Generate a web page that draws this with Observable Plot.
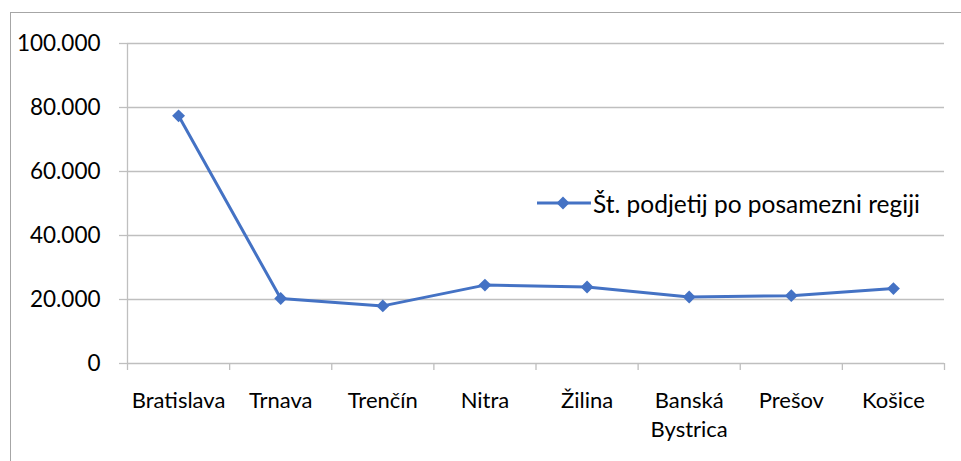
<!DOCTYPE html>
<html><head><meta charset="utf-8">
<script src="https://cdn.jsdelivr.net/npm/d3@7"></script>
<script src="https://cdn.jsdelivr.net/npm/@observablehq/plot@0.6"></script>
<style>
body{margin:0;background:#fff;}
#wrap{position:relative;width:961px;height:461px;overflow:hidden;}
#border{position:absolute;left:10px;top:12px;width:1000px;height:1000px;border-left:1.5px solid #a6a6a6;border-top:1.5px solid #a6a6a6;pointer-events:none;}
#chart{position:absolute;left:0;top:0;}
#legend{position:absolute;left:537px;top:188px;height:30px;font-family:Lato,sans-serif;font-size:24.5px;display:flex;align-items:center;white-space:nowrap;color:#000;}
#legend svg{margin-right:2px;}
</style>
</head><body><div id="wrap"><div id="chart"></div><div id="border"></div><div id="legend"></div></div>
<script>
const regions = ["Bratislava","Trnava","Trenčín","Nitra","Žilina","Banská Bystrica","Prešov","Košice"];
const regionLabels = ["Bratislava","Trnava","Trenčín","Nitra","Žilina","Banská\nBystrica","Prešov","Košice"];
const companies = [77400,20300,18000,24500,23900,20800,21200,23400];
const yTicks = [0,20000,40000,60000,80000,100000];
const yTickLabels = ["0","20.000","40.000","60.000","80.000","100.000"];
const seriesName = "Št. podjetij po posamezni regiji";

const blue = "#4472c4";
const gray = "#bfbfbf";
const font = "Lato, sans-serif";
const data = regions.map((r, i) => ({region: r, pos: i + 0.5, value: companies[i]}));

const plot = Plot.plot({
  width: 961, height: 461,
  marginLeft: 127, marginRight: 17, marginTop: 43, marginBottom: 98,
  x: {type: "linear", domain: [0, regions.length], label: null},
  y: {domain: [0, 100000], label: null},
  style: {fontFamily: font, background: "transparent", color: "#000"},
  marks: [
    Plot.gridY(yTicks, {stroke: gray, strokeOpacity: 1, strokeWidth: 1.3}),
    Plot.ruleX([0], {stroke: gray, strokeWidth: 1.3}),
    Plot.axisY({ticks: yTicks, tickSize: 8, tickPadding: 19, stroke: gray, strokeWidth: 1.3, label: null,
      tickFormat: d => yTickLabels[yTicks.indexOf(d)], fontSize: 22.5, fill: "#000"}),
    Plot.axisX({ticks: d3.range(regions.length + 1), tickSize: 7, stroke: gray, strokeWidth: 1.3, label: null, tickFormat: () => ""}),
    Plot.axisX({ticks: data.map(d => d.pos), tickSize: 0, tickPadding: 24, lineHeight: 1.32, label: null,
      tickFormat: d => regionLabels[Math.floor(d)], fontSize: 22, fill: "#000"}),
    Plot.line(data, {x: "pos", y: "value", stroke: blue, strokeWidth: 3}),
    Plot.dot(data, {x: "pos", y: "value", symbol: "diamond2", r: 5.8, fill: blue, stroke: "none"})
  ]
});
document.getElementById("chart").append(plot);

const lg = document.getElementById("legend");
lg.innerHTML = `<svg width="54" height="16" viewBox="0 0 54 16"><line x1="0" y1="8" x2="54" y2="8" stroke="${blue}" stroke-width="3"/><path d="M26,1.5L32.5,8L26,14.5L19.5,8Z" fill="${blue}"/></svg><span></span>`;
lg.querySelector("span").textContent = seriesName;
</script>
</body></html>
